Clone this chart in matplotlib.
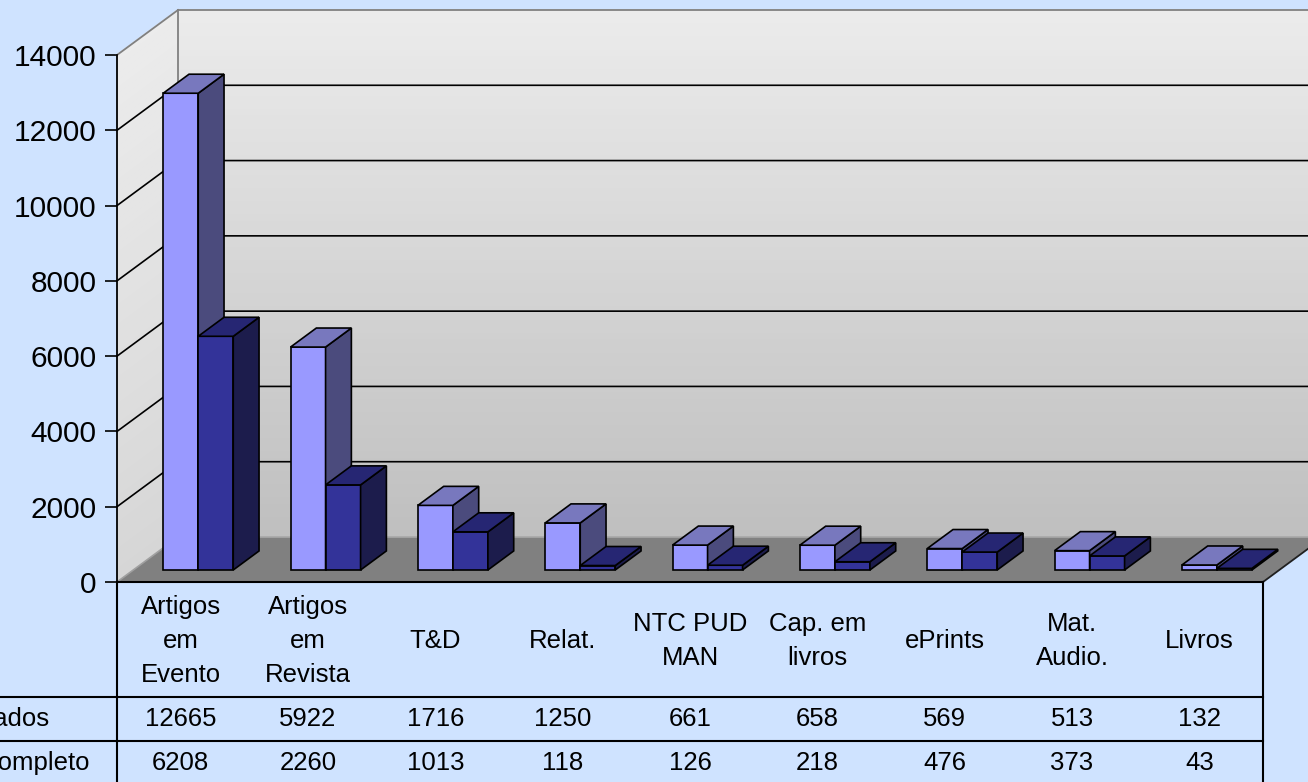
import numpy as np
import matplotlib.pyplot as plt
from matplotlib.patches import Polygon

plt.rcParams['font.family'] = ['Liberation Sans', 'DejaVu Sans']

# dados
categorias = ['Artigos\nem\nEvento', 'Artigos\nem\nRevista', 'T&D', 'Relat.',
              'NTC PUD\nMAN', 'Cap. em\nlivros', 'ePrints', 'Mat.\nAudio.', 'Livros']
cadastrados = [12665, 5922, 1716, 1250, 661, 658, 569, 513, 132]
texto_completo = [6208, 2260, 1013, 118, 126, 218, 476, 373, 43]
series_nomes = ['Cadastrados', 'Texto completo']
yticks = np.arange(0, 14001, 2000)

BG = '#CFE3FF'
cores = [('#9999FF', '#7878BE', '#4B4B7D'),   # frente, topo, lado
         ('#333399', '#262673', '#1C1C4C')]

W, H = 1308, 782
fig = plt.figure(figsize=(13.08, 7.82), dpi=100, facecolor=BG)
ax = fig.add_axes([117 / W, 200 / H, 1146 / W, 527 / H])
n = len(categorias)
ax.set_xlim(0, n)
ax.set_ylim(0, 14000)
ax.patch.set_visible(False)
for s in ['top', 'right', 'bottom']:
    ax.spines[s].set_visible(False)
ax.spines['left'].set_linewidth(1.3)
ax.spines['left'].set_zorder(20)
ax.set_xticks([])
ax.set_yticks(yticks)
ax.tick_params(axis='y', length=8.6, width=1.2, labelsize=21.5, pad=6)

# profundidade da caixa 3D (em unidades de dados)
DX = 61 / 127.33
DY = 45 / (527 / 14000)
XR = n + 0.6


def P(x, y, z):
    return (x + z * DX, y + z * DY)


def poly(pts, fc, ec='none', lw=0, z=1):
    ax.add_patch(Polygon(pts, closed=True, facecolor=fc, edgecolor=ec,
                         linewidth=lw, clip_on=False, zorder=z,
                         joinstyle='miter'))


def mix(c0, c1, t):
    return tuple(np.array(c0) * (1 - t) + np.array(c1) * t)


# parede do fundo e lateral (gradiente)
ns = 80
lev = np.linspace(0, 14000, ns + 1)
for k in range(ns):
    t = k / ns
    c = mix((0.75, 0.75, 0.75), (0.925, 0.925, 0.925), t)
    poly([P(0, lev[k], 1), P(XR, lev[k], 1), P(XR, lev[k + 1] + 30, 1),
          P(0, lev[k + 1] + 30, 1)], c, z=1)
    c2 = mix((0.84, 0.84, 0.84), (0.925, 0.925, 0.925), t)
    poly([P(0, lev[k], 0), P(0, lev[k], 1), P(0, lev[k + 1] + 30, 1),
          P(0, lev[k + 1] + 30, 0)], c2, z=1)

# chão
poly([P(0, 0, 0), P(n, 0, 0), P(n, 0, 1), P(0, 0, 1)], '#808080', z=2)
ax.plot(*zip(P(0, 0, 1), P(XR, 0, 1)), color='#A8A8A8', lw=1.2, clip_on=False, zorder=3)
ax.plot(*zip(P(0, 0, 0), P(0, 0, 1)), color='#A0A0A0', lw=1.2, clip_on=False, zorder=3)
ax.plot(*zip(P(n, 0, 0), P(n, 0, 1)), color='#202020', lw=1.3, clip_on=False, zorder=3)

# linhas de grade
for v in yticks[1:-1]:
    xs, ys = zip(P(0, v, 0), P(0, v, 1), P(XR, v, 1))
    ax.plot(xs, ys, color='black', lw=1.2, clip_on=False, zorder=3)
for a, b in [(P(0, 14000, 0), P(0, 14000, 1)), (P(0, 14000, 1), P(XR, 14000, 1)),
             (P(0, 0, 1), P(0, 14000, 1))]:
    ax.plot(*zip(a, b), color='#808080', lw=1.3, clip_on=False, zorder=3)

# barras
offs = [0.235, 0.51, 0.785]
z0, z1 = 0.267, 0.69
for i in range(n):
    for j, vals in enumerate([cadastrados, texto_completo]):
        h = vals[i]
        x0, x1 = i + offs[j], i + offs[j + 1]
        fr, tp, sd = cores[j]
        zz = 10 + i * 2 + j * 0.5
        poly([P(x0, 0, z0), P(x0, h, z0), P(x1, h, z0), P(x1, 0, z0)], fr, 'black', 1.2, zz)
        poly([P(x1, 0, z0), P(x1, h, z0), P(x1, h, z1), P(x1, 0, z1)], sd, 'black', 1.2, zz)
        poly([P(x0, h, z0), P(x1, h, z0), P(x1, h, z1), P(x0, h, z1)], tp, 'black', 1.2, zz)

# tabela de dados
px = 527 / 14000
r1 = (582 - 697) / px
r2 = (582 - 741) / px
yb = (582 - 800) / px
kw = dict(color='black', lw=1.5, clip_on=False, zorder=20)
ax.plot([0, n], [0, 0], **kw)
ax.plot([-1, n], [r1, r1], **kw)
ax.plot([-1, n], [r2, r2], **kw)
ax.plot([0, 0], [0, yb], **kw)
ax.plot([n, n], [0, yb], **kw)

yh = (582 - 641) / px
y1 = (582 - 719) / px
y2 = (582 - 763) / px
fs = 18.5
for i, cat in enumerate(categorias):
    ax.text(i + 0.5, yh, cat, ha='center', va='center', fontsize=fs,
            linespacing=1.55)
    ax.text(i + 0.5, y1, str(cadastrados[i]), ha='center', va='center', fontsize=fs)
    ax.text(i + 0.5, y2, str(texto_completo[i]), ha='center', va='center', fontsize=fs)

ax.text((50 - 117) / 127.33, y1, series_nomes[0], ha='right', va='center', fontsize=fs)
ax.text((90 - 117) / 127.33, y2, series_nomes[1], ha='right', va='center', fontsize=fs)

fig.savefig('out.png', dpi=100, facecolor=BG)
